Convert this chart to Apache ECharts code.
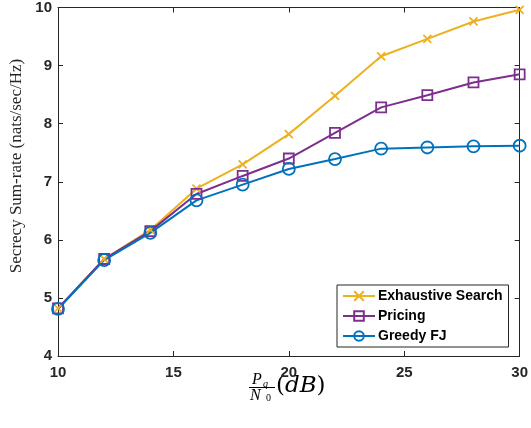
<!DOCTYPE html>
<html>
<head>
<meta charset="utf-8">
<script src="https://cdn.jsdelivr.net/npm/echarts@6/dist/echarts.min.js"></script>
<style>html,body{margin:0;padding:0;background:#fff;}#c{width:531px;height:428px;}</style>
</head>
<body>
<div id="c"></div>
<script>
var xValues = [10, 12, 14, 16, 18, 20, 22, 24, 26, 28, 30];
var exhaustive = [4.82, 5.67, 6.17, 6.88, 7.30, 7.82, 8.48, 9.16, 9.46, 9.76, 9.96];
var pricing = [4.82, 5.67, 6.15, 6.79, 7.10, 7.40, 7.84, 8.28, 8.49, 8.71, 8.85];
var greedy = [4.81, 5.65, 6.12, 6.68, 6.95, 7.22, 7.39, 7.57, 7.59, 7.61, 7.62];
var seriesNames = ['Exhaustive Search', 'Pricing', 'Greedy FJ'];

function pairs(ys) { return xValues.map(function (x, i) { return [x, ys[i]]; }); }

var axisColor = '#262626';
var labelFont = { fontFamily: 'Liberation Sans, Arial', fontWeight: 'bold', fontSize: 15, color: axisColor };

function mk(name, data, color, symbol, size) {
  return {
    name: name, type: 'line', data: pairs(data),
    symbol: symbol, symbolSize: size,
    lineStyle: { color: color, width: 2 },
    itemStyle: { color: 'rgba(255,255,255,0)', borderColor: color, borderWidth: 1.8 },
    emphasis: { disabled: true }, animation: false
  };
}

var chart = echarts.init(document.getElementById('c'));
chart.setOption({
  animation: false,
  grid: { left: 58, right: 10, top: 7, bottom: 72 },
  xAxis: [{
    type: 'value', min: 10, max: 30, interval: 5,
    axisLine: { lineStyle: { color: axisColor, width: 1 } },
    axisTick: { inside: true, length: 5, lineStyle: { color: axisColor } },
    axisLabel: Object.assign({ margin: 9 }, labelFont),
    splitLine: { show: false }
  }, {
    type: 'value', position: 'top', min: 10, max: 30, interval: 5,
    axisLine: { show: true, lineStyle: { color: axisColor, width: 1 } },
    axisTick: { inside: true, length: 5, lineStyle: { color: axisColor } },
    axisLabel: { show: false }, splitLine: { show: false }
  }],
  yAxis: [{
    type: 'value', min: 4, max: 10, interval: 1,
    axisLine: { show: true, lineStyle: { color: axisColor, width: 1 } },
    axisTick: { show: true, inside: true, length: 5, lineStyle: { color: axisColor } },
    axisLabel: Object.assign({ margin: 6 }, labelFont),
    splitLine: { show: false }
  }, {
    type: 'value', position: 'right', min: 4, max: 10, interval: 1,
    axisLine: { show: true, lineStyle: { color: axisColor, width: 1 } },
    axisTick: { show: true, inside: true, length: 5, lineStyle: { color: axisColor } },
    axisLabel: { show: false }, splitLine: { show: false }
  }],
  legend: {
    orient: 'vertical', left: 337, top: 285,
    data: seriesNames,
    backgroundColor: '#fff', borderColor: axisColor, borderWidth: 1, borderRadius: 0,
    padding: [4, 6, 4, 5], itemGap: 6, itemWidth: 32, itemHeight: 12,
    textStyle: { fontFamily: 'Liberation Sans, Arial', fontWeight: 'bold', fontSize: 14, color: '#000', padding: [0, 0, 0, -2] }
  },
  series: [
    mk(seriesNames[0], exhaustive, '#EDB120', 'path://M0,0L10,10M0,10L10,0', 8),
    mk(seriesNames[1], pricing, '#7E2F8E', 'rect', 10),
    mk(seriesNames[2], greedy, '#0072BD', 'circle', 12)
  ],
  graphic: [
    { type: 'text', x: 17, y: 166, rotation: Math.PI / 2,
      style: { text: 'Secrecy Sum-rate (nats/sec/Hz)', font: '17px "Liberation Serif", serif', fill: '#262626', textAlign: 'center', textVerticalAlign: 'middle' } },
    { type: 'text', x: 252, y: 372, style: { text: 'P', font: 'italic 16px "Liberation Serif", serif', fill: '#000' } },
    { type: 'text', x: 263, y: 379, style: { text: 'q', font: 'italic 10px "Liberation Serif", serif', fill: '#000' } },
    { type: 'line', shape: { x1: 249, y1: 387.5, x2: 275, y2: 387.5 }, style: { stroke: '#000', lineWidth: 1 } },
    { type: 'text', x: 250, y: 388, style: { text: 'N', font: 'italic 16px "Liberation Serif", serif', fill: '#000' } },
    { type: 'text', x: 266, y: 393, style: { text: '0', font: '10px "Liberation Serif", serif', fill: '#000' } },
    { type: 'text', x: 276, y: 375, style: {
      text: '{p|(}{i|dB}{p|)}',
      rich: {
        p: { font: '23px "DejaVu Serif", serif', fill: '#000' },
        i: { font: 'italic 23px "DejaVu Serif", serif', fill: '#000' }
      } } }
  ]
});
</script>
</body>
</html>
